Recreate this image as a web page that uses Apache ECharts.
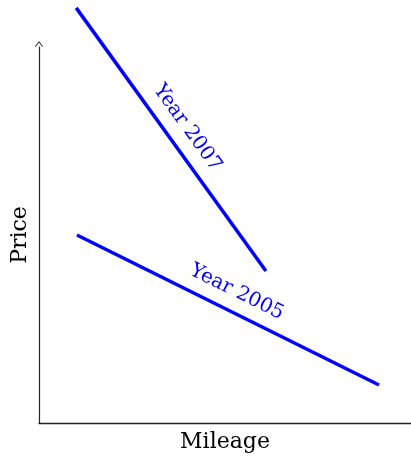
<!DOCTYPE html>
<html>
<head>
<meta charset="utf-8">
<script src="https://cdn.jsdelivr.net/npm/echarts@6/dist/echarts.min.js"></script>
<style>
html,body{margin:0;padding:0;background:#fff;}
#chart{width:411px;height:459px;}
</style>
</head>
<body>
<div id="chart"></div>
<script>
// Data (arbitrary units; axes carry no tick labels)
const seriesNames = ['Year 2007', 'Year 2005'];
const year2007 = [[10, 110.4], [61, 40.4]];
const year2005 = [[10.2, 50], [91.4, 10.1]];
const xAxisName = 'Mileage';
const yAxisName = 'Price';

const BLUE = '#0000ff';
const FONT = 'DejaVu Serif';

function lerp(a, b, t) { return [a[0] + (b[0] - a[0]) * t, a[1] + (b[1] - a[1]) * t]; }

function makeSeries(name, pts) {
  const p0 = pts[0], p1 = pts[pts.length - 1];
  return {
    name: name,
    type: 'line',
    data: pts,
    symbol: 'none',
    clip: false,
    silent: true,
    lineStyle: { color: BLUE, width: 3.5 },
    markLine: {
      silent: true,
      symbol: ['none', 'none'],
      animation: false,
      lineStyle: { color: 'transparent', width: 0 },
      label: {
        show: true,
        position: 'middle',
        formatter: name,
        color: BLUE,
        fontFamily: FONT,
        fontSize: 20,
        distance: 10
      },
      // label-carrier segment centred on the line's midpoint (kept inside the axis range)
      data: [[{ coord: lerp(p0, p1, 0.3) }, { coord: lerp(p0, p1, 0.7) }]]
    }
  };
}

const chart = echarts.init(document.getElementById('chart'), null, { renderer: 'canvas' });
chart.setOption({
  animation: false,
  backgroundColor: '#fff',
  grid: { left: 39, right: 0, top: 47, bottom: 36, containLabel: false },
  xAxis: {
    type: 'value', min: 0, max: 100,
    name: xAxisName, nameLocation: 'middle', nameGap: 8,
    nameTextStyle: { fontFamily: FONT, fontSize: 22, color: '#000', verticalAlign: 'top' },
    axisLine: { show: true, lineStyle: { color: '#222', width: 1.3 } },
    axisTick: { show: false }, axisLabel: { show: false }, splitLine: { show: false }
  },
  yAxis: {
    type: 'value', min: 0, max: 100,
    name: yAxisName, nameLocation: 'middle', nameGap: 8, nameRotate: 90,
    nameTextStyle: { fontFamily: FONT, fontSize: 22, color: '#000' },
    axisLine: {
      show: true,
      lineStyle: { color: '#222', width: 1.2 },
      symbol: ['none', 'path://M0,6 L4.5,0 L9,6 L8.2,6.6 L4.5,1.6 L0.8,6.6 Z'],
      symbolSize: [9, 6],
      symbolOffset: [0, 3]
    },
    axisTick: { show: false }, axisLabel: { show: false }, splitLine: { show: false }
  },
  series: [makeSeries(seriesNames[0], year2007), makeSeries(seriesNames[1], year2005)]
});
</script>
</body>
</html>
